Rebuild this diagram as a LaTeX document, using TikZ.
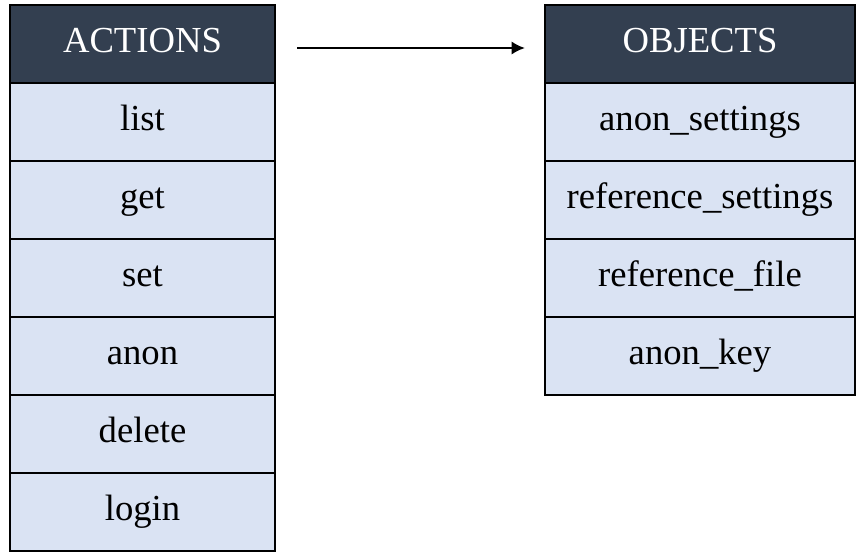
\documentclass[tikz,border=0pt]{standalone}
\usepackage{fontspec}
\setmainfont{Liberation Serif}
\usetikzlibrary{positioning,arrows.meta}

\definecolor{headblue}{HTML}{333F50}
\definecolor{cellblue}{HTML}{DAE3F3}

\tikzset{
  cell/.style={draw=black, line width=1.2pt, fill=cellblue, inner sep=0pt, outer sep=0pt,
    minimum height=58.5pt, text height=19pt, text depth=6pt,
    font=\fontsize{27.5}{33}\selectfont},
  head/.style={cell, fill=headblue, text=white},
  leftcol/.style={minimum width=198.75pt},
  rightcol/.style={minimum width=232.5pt}
}

\begin{document}
\begin{tikzpicture}[x=0.75pt,y=-0.75pt]
    \useasboundingbox (0,0) rectangle (862,551);
    % actions column
    \node[head,leftcol] (act0) at (142.5,44) {ACTIONS};
    \foreach \txt [count=\i, remember=\i as \j (initially 0)] in {list,get,set,anon,delete,login}
        \node[cell,leftcol,below=0pt of act\j] (act\i) {\txt};
    % objects column
    \node[head,rightcol] (obj0) at (700,44) {OBJECTS};
    \foreach \txt [count=\i, remember=\i as \j (initially 0)] in {anon\_settings,reference\_settings,reference\_file,anon\_key}
        \node[cell,rightcol,below=0pt of obj\j] (obj\i) {\txt};
    % arrow
    \draw[line width=2.2pt,-{Latex[length=10pt,width=10pt]}] ([xshift=16.5pt,yshift=-3pt]act0.east) -- ([xshift=-15pt,yshift=-3pt]obj0.west);
\end{tikzpicture}
\end{document}
